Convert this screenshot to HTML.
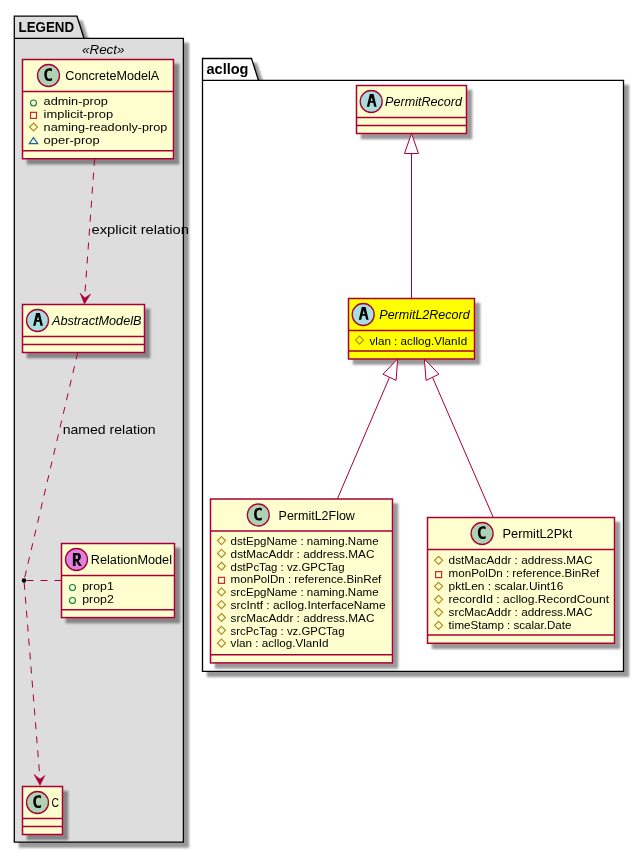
<!DOCTYPE html><html><head><meta charset="utf-8"><style>html,body{margin:0;padding:0;background:#fff;}svg{display:block;will-change:transform;}text{font-family:"Liberation Sans",sans-serif;}</style></head><body>
<svg width="644" height="853" viewBox="0 0 644 853">
<defs><filter id="sh" x="-20%" y="-20%" width="140%" height="140%" filterUnits="objectBoundingBox">
<feGaussianBlur in="SourceAlpha" stdDeviation="1.0" result="b"/>
<feColorMatrix in="b" type="matrix" values="0 0 0 0 0  0 0 0 0 0  0 0 0 0 0  0 0 0 .4 0" result="b2"/>
<feOffset in="b2" dx="4.5" dy="4.5" result="b3"/>
<feMerge><feMergeNode in="b3"/><feMergeNode in="SourceGraphic"/></feMerge>
</filter></defs>
<rect x="0" y="0" width="644" height="853" fill="#fff"/>
<polygon points="14.3,16.2 77,16.2 84,38.3 183.4,38.3 183.4,842.2 14.3,842.2" fill="#DDDDDD" stroke="#000" stroke-width="1.3" filter="url(#sh)"/>
<line x1="14.3" y1="38.3" x2="84" y2="38.3" stroke="#000" stroke-width="1.3"/>
<text x="18.5" y="31.7" font-size="14.5" textLength="55.5" lengthAdjust="spacingAndGlyphs" font-weight="bold" fill="#000000">LEGEND</text>
<polygon points="202.5,58.5 251.5,58.5 258.5,80.3 623.5,80.3 623.5,671.3 202.5,671.3" fill="#FFFFFF" stroke="#000" stroke-width="1.3" filter="url(#sh)"/>
<line x1="202.5" y1="80.3" x2="258.5" y2="80.3" stroke="#000" stroke-width="1.3"/>
<text x="206.5" y="73.6" font-size="14.5" textLength="42" lengthAdjust="spacingAndGlyphs" font-weight="bold" fill="#000000">acllog</text>
<text x="82" y="53.6" font-size="12.5" textLength="42.5" lengthAdjust="spacingAndGlyphs" font-style="italic" fill="#000000">«Rect»</text>
<rect x="22.5" y="59.5" width="151.0" height="99.25" fill="#FEFECE" stroke="#A80036" stroke-width="1.5" filter="url(#sh)"/>
<circle cx="48.5" cy="75.5" r="11" fill="#ADD1B2" stroke="#A80036" stroke-width="1.3"/>
<path transform="translate(12.0,43.3)" d="M39.9688,37.1406 Q39.3906,37.4375 38.75,37.5781 Q38.1094,37.7344 37.4063,37.7344 Q34.9063,37.7344 33.5781,36.0938 Q32.2656,34.4375 32.2656,31.3125 Q32.2656,28.1875 33.5781,26.5313 Q34.9063,24.875 37.4063,24.875 Q38.1094,24.875 38.75,25.0313 Q39.4063,25.1875 39.9688,25.4844 L39.9688,28.2031 Q39.3438,27.625 38.75,27.3594 Q38.1563,27.0781 37.5313,27.0781 Q36.1875,27.0781 35.5,28.1563 Q34.8125,29.2188 34.8125,31.3125 Q34.8125,33.4063 35.5,34.4844 Q36.1875,35.5469 37.5313,35.5469 Q38.1563,35.5469 38.75,35.2813 Q39.3438,35 39.9688,34.4219 Z" fill="#000"/>
<text x="65.3" y="80.1" font-size="12.5" textLength="93.8" lengthAdjust="spacingAndGlyphs" fill="#000000">ConcreteModelA</text>
<line x1="22.5" y1="91.5" x2="173.5" y2="91.5" stroke="#A80036" stroke-width="1.5"/>
<circle cx="33.5" cy="103.0" r="3" fill="none" stroke="#038048" stroke-width="1.05"/>
<text x="43.6" y="105.4" font-size="11.5" textLength="64.2" lengthAdjust="spacingAndGlyphs" fill="#000000">admin-prop</text>
<rect x="30.5" y="112.35000000000001" width="6" height="6" fill="none" stroke="#C82930" stroke-width="1.2"/>
<text x="43.6" y="118.35000000000001" font-size="11.5" textLength="69.6" lengthAdjust="spacingAndGlyphs" fill="#000000">implicit-prop</text>
<polygon points="33.5,123.00000000000001 37.5,127.00000000000001 33.5,131.0 29.5,127.00000000000001" fill="none" stroke="#B38D22" stroke-width="1.2"/>
<text x="43.6" y="131.3" font-size="11.5" textLength="123.8" lengthAdjust="spacingAndGlyphs" fill="#000000">naming-readonly-prop</text>
<polygon points="33.5,137.55 37.7,143.55 29.3,143.55" fill="none" stroke="#1963A0" stroke-width="1.2"/>
<text x="43.6" y="144.25" font-size="11.5" textLength="56" lengthAdjust="spacingAndGlyphs" fill="#000000">oper-prop</text>
<line x1="22.5" y1="150.75" x2="173.5" y2="150.75" stroke="#A80036" stroke-width="1.5"/>
<rect x="22.5" y="304.5" width="122.0" height="48.0" fill="#FEFECE" stroke="#A80036" stroke-width="1.5" filter="url(#sh)"/>
<circle cx="37.5" cy="320.5" r="11" fill="#A9DCDF" stroke="#A80036" stroke-width="1.3"/>
<path transform="translate(37.5,320.5)" d="M-1.35,-7.4 L2.35,-7.4 L5.4,5.2 L3.0,5.2 L2.06,1.3 L-1.06,1.3 L-2.0,5.2 L-4.4,5.2 Z M0.5,-4.3 L1.55,-0.5 L-0.55,-0.5 Z" fill="#000" fill-rule="evenodd"/>
<text x="52" y="325.1" font-size="12.5" textLength="89.5" lengthAdjust="spacingAndGlyphs" font-style="italic" fill="#000000">AbstractModelB</text>
<line x1="22.5" y1="336.5" x2="144.5" y2="336.5" stroke="#A80036" stroke-width="1.5"/>
<line x1="22.5" y1="344.5" x2="144.5" y2="344.5" stroke="#A80036" stroke-width="1.5"/>
<rect x="61.5" y="543.5" width="113.0" height="74.10000000000002" fill="#FEFECE" stroke="#A80036" stroke-width="1.5" filter="url(#sh)"/>
<circle cx="76.5" cy="559.5" r="11" fill="#E07FDC" stroke="#A80036" stroke-width="1.3"/>
<path transform="translate(76.5,559.5)" d="M-3.6,-6.6 L1.2,-6.6 Q4.4,-6.6 4.4,-2.7 Q4.4,0.6 2.0,1.4 L5.4,6.4 L2.6,6.4 L-0.3,1.8 L-0.95,1.8 L-0.95,6.4 L-3.6,6.4 Z M-0.95,-4.3 L0.9,-4.3 Q1.7,-4.3 1.7,-2.5 Q1.7,-0.6 0.9,-0.6 L-0.95,-0.6 Z" fill="#000" fill-rule="evenodd"/>
<text x="90.8" y="564.1" font-size="12.5" textLength="81.2" lengthAdjust="spacingAndGlyphs" fill="#000000">RelationModel</text>
<line x1="61.5" y1="575.5" x2="174.5" y2="575.5" stroke="#A80036" stroke-width="1.5"/>
<circle cx="72.5" cy="587.5" r="3" fill="none" stroke="#038048" stroke-width="1.05"/>
<text x="82.2" y="589.9" font-size="11.5" textLength="31.6" lengthAdjust="spacingAndGlyphs" fill="#000000">prop1</text>
<circle cx="72.5" cy="600.45" r="3" fill="none" stroke="#038048" stroke-width="1.05"/>
<text x="82.2" y="602.85" font-size="11.5" textLength="31.6" lengthAdjust="spacingAndGlyphs" fill="#000000">prop2</text>
<line x1="61.5" y1="609.8" x2="174.5" y2="609.8" stroke="#A80036" stroke-width="1.5"/>
<rect x="22.5" y="786.5" width="40.0" height="48.0" fill="#FEFECE" stroke="#A80036" stroke-width="1.5" filter="url(#sh)"/>
<circle cx="37.5" cy="802.5" r="11" fill="#ADD1B2" stroke="#A80036" stroke-width="1.3"/>
<path transform="translate(1.0,770.3)" d="M39.9688,37.1406 Q39.3906,37.4375 38.75,37.5781 Q38.1094,37.7344 37.4063,37.7344 Q34.9063,37.7344 33.5781,36.0938 Q32.2656,34.4375 32.2656,31.3125 Q32.2656,28.1875 33.5781,26.5313 Q34.9063,24.875 37.4063,24.875 Q38.1094,24.875 38.75,25.0313 Q39.4063,25.1875 39.9688,25.4844 L39.9688,28.2031 Q39.3438,27.625 38.75,27.3594 Q38.1563,27.0781 37.5313,27.0781 Q36.1875,27.0781 35.5,28.1563 Q34.8125,29.2188 34.8125,31.3125 Q34.8125,33.4063 35.5,34.4844 Q36.1875,35.5469 37.5313,35.5469 Q38.1563,35.5469 38.75,35.2813 Q39.3438,35 39.9688,34.4219 Z" fill="#000"/>
<text x="51.6" y="807.1" font-size="12.5" textLength="7.5" lengthAdjust="spacingAndGlyphs" fill="#000000">C</text>
<line x1="22.5" y1="818.5" x2="62.5" y2="818.5" stroke="#A80036" stroke-width="1.5"/>
<line x1="22.5" y1="826.5" x2="62.5" y2="826.5" stroke="#A80036" stroke-width="1.5"/>
<rect x="356.5" y="85.5" width="110.0" height="48.0" fill="#FEFECE" stroke="#A80036" stroke-width="1.5" filter="url(#sh)"/>
<circle cx="371.2" cy="101.5" r="11" fill="#A9DCDF" stroke="#A80036" stroke-width="1.3"/>
<path transform="translate(371.2,101.5)" d="M-1.35,-7.4 L2.35,-7.4 L5.4,5.2 L3.0,5.2 L2.06,1.3 L-1.06,1.3 L-2.0,5.2 L-4.4,5.2 Z M0.5,-4.3 L1.55,-0.5 L-0.55,-0.5 Z" fill="#000" fill-rule="evenodd"/>
<text x="385.1" y="106.1" font-size="12.5" textLength="76.9" lengthAdjust="spacingAndGlyphs" font-style="italic" fill="#000000">PermitRecord</text>
<line x1="356.5" y1="117.5" x2="466.5" y2="117.5" stroke="#A80036" stroke-width="1.5"/>
<line x1="356.5" y1="125.5" x2="466.5" y2="125.5" stroke="#A80036" stroke-width="1.5"/>
<rect x="348.5" y="298.5" width="126.0" height="60.5" fill="#FFFF00" stroke="#A80036" stroke-width="1.5" filter="url(#sh)"/>
<circle cx="363.2" cy="314.5" r="11" fill="#A9DCDF" stroke="#A80036" stroke-width="1.3"/>
<path transform="translate(363.2,314.5)" d="M-1.35,-7.4 L2.35,-7.4 L5.4,5.2 L3.0,5.2 L2.06,1.3 L-1.06,1.3 L-2.0,5.2 L-4.4,5.2 Z M0.5,-4.3 L1.55,-0.5 L-0.55,-0.5 Z" fill="#000" fill-rule="evenodd"/>
<text x="379.3" y="319.1" font-size="12.5" textLength="90.3" lengthAdjust="spacingAndGlyphs" font-style="italic" fill="#000000">PermitL2Record</text>
<line x1="348.5" y1="330.5" x2="474.5" y2="330.5" stroke="#A80036" stroke-width="1.5"/>
<polygon points="359.5,336.2 363.5,340.2 359.5,344.2 355.5,340.2" fill="none" stroke="#B38D22" stroke-width="1.2"/>
<text x="369.5" y="344.5" font-size="11.5" textLength="97.8" lengthAdjust="spacingAndGlyphs" fill="#000000">vlan : acllog.VlanId</text>
<line x1="348.5" y1="351.0" x2="474.5" y2="351.0" stroke="#A80036" stroke-width="1.5"/>
<rect x="210.5" y="499" width="182.0" height="163.89999999999998" fill="#FEFECE" stroke="#A80036" stroke-width="1.5" filter="url(#sh)"/>
<circle cx="258.3" cy="515" r="11" fill="#ADD1B2" stroke="#A80036" stroke-width="1.3"/>
<path transform="translate(221.8,482.8)" d="M39.9688,37.1406 Q39.3906,37.4375 38.75,37.5781 Q38.1094,37.7344 37.4063,37.7344 Q34.9063,37.7344 33.5781,36.0938 Q32.2656,34.4375 32.2656,31.3125 Q32.2656,28.1875 33.5781,26.5313 Q34.9063,24.875 37.4063,24.875 Q38.1094,24.875 38.75,25.0313 Q39.4063,25.1875 39.9688,25.4844 L39.9688,28.2031 Q39.3438,27.625 38.75,27.3594 Q38.1563,27.0781 37.5313,27.0781 Q36.1875,27.0781 35.5,28.1563 Q34.8125,29.2188 34.8125,31.3125 Q34.8125,33.4063 35.5,34.4844 Q36.1875,35.5469 37.5313,35.5469 Q38.1563,35.5469 38.75,35.2813 Q39.3438,35 39.9688,34.4219 Z" fill="#000"/>
<text x="278.6" y="519.6" font-size="12.5" textLength="76.3" lengthAdjust="spacingAndGlyphs" fill="#000000">PermitL2Flow</text>
<line x1="210.5" y1="531" x2="392.5" y2="531" stroke="#A80036" stroke-width="1.5"/>
<polygon points="221.5,536.6 225.5,540.6 221.5,544.6 217.5,540.6" fill="none" stroke="#B38D22" stroke-width="1.2"/>
<text x="230.6" y="544.9" font-size="11.5" textLength="148" lengthAdjust="spacingAndGlyphs" fill="#000000">dstEpgName : naming.Name</text>
<polygon points="221.5,549.4200000000001 225.5,553.4200000000001 221.5,557.4200000000001 217.5,553.4200000000001" fill="none" stroke="#B38D22" stroke-width="1.2"/>
<text x="230.6" y="557.72" font-size="11.5" textLength="143.8" lengthAdjust="spacingAndGlyphs" fill="#000000">dstMacAddr : address.MAC</text>
<polygon points="221.5,562.24 225.5,566.24 221.5,570.24 217.5,566.24" fill="none" stroke="#B38D22" stroke-width="1.2"/>
<text x="230.6" y="570.54" font-size="11.5" textLength="113.9" lengthAdjust="spacingAndGlyphs" fill="#000000">dstPcTag : vz.GPCTag</text>
<rect x="218.5" y="577.36" width="6" height="6" fill="none" stroke="#C82930" stroke-width="1.2"/>
<text x="230.6" y="583.36" font-size="11.5" textLength="150.7" lengthAdjust="spacingAndGlyphs" fill="#000000">monPolDn : reference.BinRef</text>
<polygon points="221.5,587.88 225.5,591.88 221.5,595.88 217.5,591.88" fill="none" stroke="#B38D22" stroke-width="1.2"/>
<text x="230.6" y="596.18" font-size="11.5" textLength="148" lengthAdjust="spacingAndGlyphs" fill="#000000">srcEpgName : naming.Name</text>
<polygon points="221.5,600.7 225.5,604.7 221.5,608.7 217.5,604.7" fill="none" stroke="#B38D22" stroke-width="1.2"/>
<text x="230.6" y="609.0" font-size="11.5" textLength="155" lengthAdjust="spacingAndGlyphs" fill="#000000">srcIntf : acllog.InterfaceName</text>
<polygon points="221.5,613.52 225.5,617.52 221.5,621.52 217.5,617.52" fill="none" stroke="#B38D22" stroke-width="1.2"/>
<text x="230.6" y="621.8199999999999" font-size="11.5" textLength="143.8" lengthAdjust="spacingAndGlyphs" fill="#000000">srcMacAddr : address.MAC</text>
<polygon points="221.5,626.34 225.5,630.34 221.5,634.34 217.5,630.34" fill="none" stroke="#B38D22" stroke-width="1.2"/>
<text x="230.6" y="634.64" font-size="11.5" textLength="113.9" lengthAdjust="spacingAndGlyphs" fill="#000000">srcPcTag : vz.GPCTag</text>
<polygon points="221.5,639.1600000000001 225.5,643.1600000000001 221.5,647.1600000000001 217.5,643.1600000000001" fill="none" stroke="#B38D22" stroke-width="1.2"/>
<text x="230.6" y="647.46" font-size="11.5" textLength="98" lengthAdjust="spacingAndGlyphs" fill="#000000">vlan : acllog.VlanId</text>
<line x1="210.5" y1="654.7" x2="392.5" y2="654.7" stroke="#A80036" stroke-width="1.5"/>
<rect x="427.5" y="517.5" width="187.0" height="125.79999999999995" fill="#FEFECE" stroke="#A80036" stroke-width="1.5" filter="url(#sh)"/>
<circle cx="482.1" cy="533.5" r="11" fill="#ADD1B2" stroke="#A80036" stroke-width="1.3"/>
<path transform="translate(445.6,501.3)" d="M39.9688,37.1406 Q39.3906,37.4375 38.75,37.5781 Q38.1094,37.7344 37.4063,37.7344 Q34.9063,37.7344 33.5781,36.0938 Q32.2656,34.4375 32.2656,31.3125 Q32.2656,28.1875 33.5781,26.5313 Q34.9063,24.875 37.4063,24.875 Q38.1094,24.875 38.75,25.0313 Q39.4063,25.1875 39.9688,25.4844 L39.9688,28.2031 Q39.3438,27.625 38.75,27.3594 Q38.1563,27.0781 37.5313,27.0781 Q36.1875,27.0781 35.5,28.1563 Q34.8125,29.2188 34.8125,31.3125 Q34.8125,33.4063 35.5,34.4844 Q36.1875,35.5469 37.5313,35.5469 Q38.1563,35.5469 38.75,35.2813 Q39.3438,35 39.9688,34.4219 Z" fill="#000"/>
<text x="502.6" y="538.1" font-size="12.5" textLength="69.6" lengthAdjust="spacingAndGlyphs" fill="#000000">PermitL2Pkt</text>
<line x1="427.5" y1="549.5" x2="614.5" y2="549.5" stroke="#A80036" stroke-width="1.5"/>
<polygon points="438.6,556.3000000000001 442.6,560.3000000000001 438.6,564.3000000000001 434.6,560.3000000000001" fill="none" stroke="#B38D22" stroke-width="1.2"/>
<text x="448.6" y="563.7" font-size="11.5" textLength="143.8" lengthAdjust="spacingAndGlyphs" fill="#000000">dstMacAddr : address.MAC</text>
<rect x="435.6" y="571.6" width="6" height="6" fill="none" stroke="#C82930" stroke-width="1.2"/>
<text x="448.6" y="576.7" font-size="11.5" textLength="150.7" lengthAdjust="spacingAndGlyphs" fill="#000000">monPolDn : reference.BinRef</text>
<polygon points="438.6,582.3000000000001 442.6,586.3000000000001 438.6,590.3000000000001 434.6,586.3000000000001" fill="none" stroke="#B38D22" stroke-width="1.2"/>
<text x="448.6" y="589.7" font-size="11.5" textLength="114.8" lengthAdjust="spacingAndGlyphs" fill="#000000">pktLen : scalar.Uint16</text>
<polygon points="438.6,595.3000000000001 442.6,599.3000000000001 438.6,603.3000000000001 434.6,599.3000000000001" fill="none" stroke="#B38D22" stroke-width="1.2"/>
<text x="448.6" y="602.7" font-size="11.5" textLength="160.4" lengthAdjust="spacingAndGlyphs" fill="#000000">recordId : acllog.RecordCount</text>
<polygon points="438.6,608.3000000000001 442.6,612.3000000000001 438.6,616.3000000000001 434.6,612.3000000000001" fill="none" stroke="#B38D22" stroke-width="1.2"/>
<text x="448.6" y="615.7" font-size="11.5" textLength="143.8" lengthAdjust="spacingAndGlyphs" fill="#000000">srcMacAddr : address.MAC</text>
<polygon points="438.6,621.3000000000001 442.6,625.3000000000001 438.6,629.3000000000001 434.6,625.3000000000001" fill="none" stroke="#B38D22" stroke-width="1.2"/>
<text x="448.6" y="628.7" font-size="11.5" textLength="122.8" lengthAdjust="spacingAndGlyphs" fill="#000000">timeStamp : scalar.Date</text>
<line x1="427.5" y1="635.1" x2="614.5" y2="635.1" stroke="#A80036" stroke-width="1.5"/>
<line x1="411.5" y1="153.5" x2="411.5" y2="298.5" stroke="#A80036" stroke-width="1"/>
<polygon points="411.5,133.5 404.5,153.5 418.5,153.5" fill="#fff" stroke="#A80036" stroke-width="1"/>
<line x1="337.3" y1="499" x2="389.5" y2="377.3" stroke="#A80036" stroke-width="1"/>
<polygon points="397.6,358.9 383,374.2 396.1,380.4" fill="#fff" stroke="#A80036" stroke-width="1"/>
<line x1="493.3" y1="517.5" x2="432.5" y2="377.3" stroke="#A80036" stroke-width="1"/>
<polygon points="424.3,358.9 438.9,374.2 426.1,380.4" fill="#fff" stroke="#A80036" stroke-width="1"/>
<path d="M94.6,158.8 L84.6,298" fill="none" stroke="#A80036" stroke-width="1" stroke-dasharray="7,7"/>
<polygon points="84.4,304.1 80.15,293.1 84.8,297.9 90.6,294.1" fill="#A80036" stroke="#A80036" stroke-width="0.6"/>
<path d="M77.7,352.5 L24,580.5" fill="none" stroke="#A80036" stroke-width="1" stroke-dasharray="7,7"/>
<path d="M24,580.5 L40,779" fill="none" stroke="#A80036" stroke-width="1" stroke-dasharray="7,7" stroke-dashoffset="-2.3"/>
<polygon points="40,785.3 34.1,774.5 40,779.2 44.9,775.4" fill="#A80036" stroke="#A80036" stroke-width="0.6"/>
<path d="M61.5,580.5 L24,580.5" fill="none" stroke="#A80036" stroke-width="1" stroke-dasharray="7,7"/>
<circle cx="24" cy="580.5" r="2.2" fill="#000"/>
<text x="91.5" y="233.7" font-size="13" textLength="97.5" lengthAdjust="spacingAndGlyphs" fill="#000000">explicit relation</text>
<text x="62.7" y="433.8" font-size="13" textLength="93" lengthAdjust="spacingAndGlyphs" fill="#000000">named relation</text>
</svg></body></html>
